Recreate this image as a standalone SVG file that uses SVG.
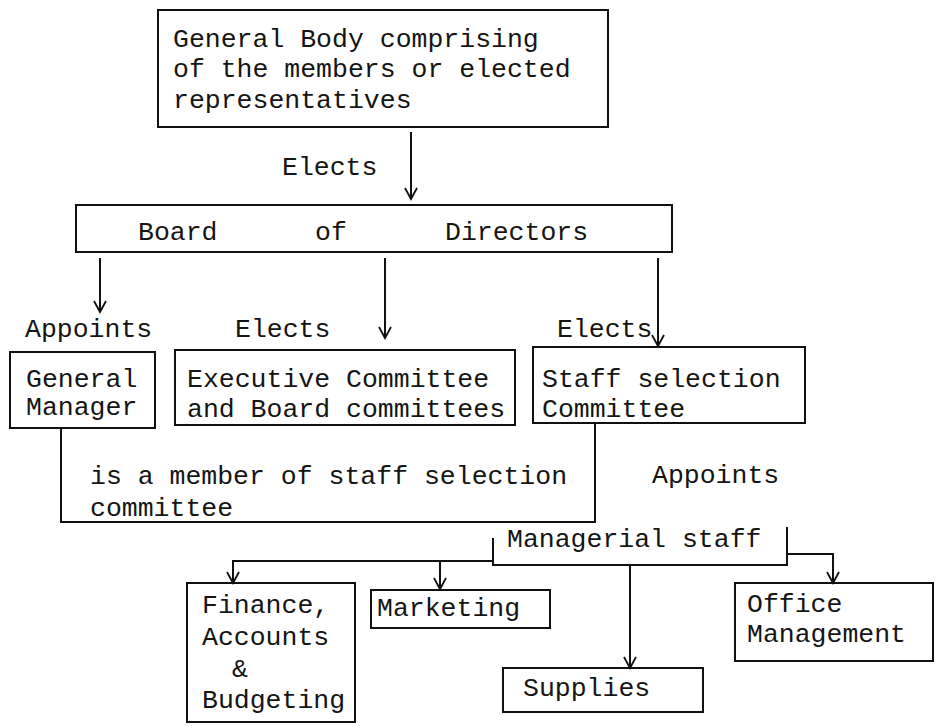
<svg xmlns="http://www.w3.org/2000/svg" width="936" height="726" viewBox="0 0 936 726">
<defs>
<style>
text{font-family:"Liberation Mono","Courier New",monospace;font-size:26.5px;fill:#151515}
.box{fill:none;stroke:#111;stroke-width:2}
.ln{fill:none;stroke:#111;stroke-width:2}
</style>
<marker id="ah" viewBox="0 0 14 14" refX="12" refY="7" markerWidth="14" markerHeight="14" markerUnits="userSpaceOnUse" orient="auto">
<path d="M1,1 L12,7 L1,13" fill="none" stroke="#111" stroke-width="1.8"/>
</marker>
</defs>
<rect width="936" height="726" fill="#fff"/>
<g id="connectors">
<line class="ln" x1="411" y1="132" x2="411" y2="199" marker-end="url(#ah)"/>
<line class="ln" x1="100" y1="258" x2="100" y2="312" marker-end="url(#ah)"/>
<line class="ln" x1="385" y1="258" x2="385" y2="338" marker-end="url(#ah)"/>
<line class="ln" x1="658" y1="258" x2="658" y2="346" marker-end="url(#ah)"/>
<path class="ln" d="M493,561 H233 V583" marker-end="url(#ah)"/>
<line class="ln" x1="440" y1="561" x2="440" y2="589" marker-end="url(#ah)"/>
<line class="ln" x1="630" y1="565" x2="630" y2="668" marker-end="url(#ah)"/>
<path class="ln" d="M787,554 H833 V583" marker-end="url(#ah)"/>
</g>
<g id="general-body">
<rect class="box" x="158" y="10" width="450" height="117"/>
<text x="173" y="47">General Body comprising</text>
<text x="173" y="77">of the members or elected</text>
<text x="173" y="108">representatives</text>
</g>
<g id="label-elects-top"><text x="282" y="175">Elects</text></g>
<g id="board">
<rect class="box" x="76" y="205" width="596" height="47"/>
<text x="138" y="240">Board</text>
<text x="315" y="240">of</text>
<text x="445" y="240">Directors</text>
</g>
<g id="label-appoints-left"><text x="25" y="337">Appoints</text></g>
<g id="label-elects-mid"><text x="235" y="337">Elects</text></g>
<g id="label-elects-right"><text x="557" y="337">Elects</text></g>
<g id="general-manager">
<rect class="box" x="10" y="352" width="145" height="76"/>
<text x="26" y="387">General</text>
<text x="26" y="415">Manager</text>
</g>
<g id="executive-committee">
<rect class="box" x="175" y="350" width="340" height="75"/>
<text x="187" y="387">Executive Committee</text>
<text x="187" y="417">and Board committees</text>
</g>
<g id="staff-selection">
<rect class="box" x="533" y="347" width="272" height="76"/>
<text x="542" y="387">Staff selection</text>
<text x="542" y="417">Committee</text>
</g>
<g id="member-link">
<path class="ln" d="M61,428 V522 H595 V423"/>
<text x="90" y="484">is a member of staff selection</text>
<text x="90" y="516">committee</text>
</g>
<g id="label-appoints-right"><text x="652" y="483">Appoints</text></g>
<g id="managerial-staff">
<path class="box" d="M493,538 V565 H787 V527"/>
<text x="507" y="547">Managerial staff</text>
</g>
<g id="finance">
<rect class="box" x="187" y="583" width="168" height="139"/>
<text x="202" y="613">Finance,</text>
<text x="202" y="645">Accounts</text>
<text x="232" y="677">&amp;</text>
<text x="202" y="708">Budgeting</text>
</g>
<g id="marketing">
<rect class="box" x="371" y="590" width="179" height="38"/>
<text x="377" y="616">Marketing</text>
</g>
<g id="supplies">
<rect class="box" x="503" y="668" width="200" height="44"/>
<text x="523" y="696">Supplies</text>
</g>
<g id="office">
<rect class="box" x="735" y="583" width="198" height="78"/>
<text x="747" y="612">Office</text>
<text x="747" y="642">Management</text>
</g>
</svg>
